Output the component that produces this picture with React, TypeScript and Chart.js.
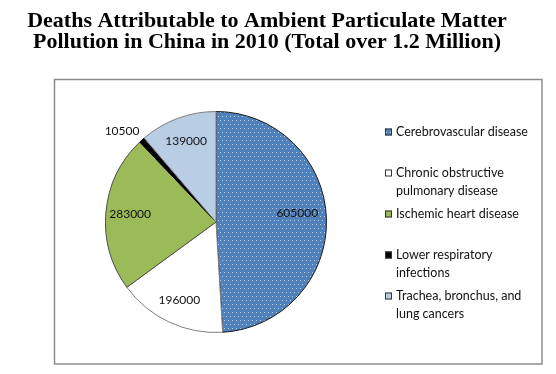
import React, { useEffect, useRef } from "react";
import { Chart, registerables } from "chart.js";

Chart.register(...registerables);

const TITLE_LINES = [
  "Deaths Attributable to Ambient Particulate Matter",
  "Pollution in China in 2010 (Total over 1.2 Million)",
];
const CATEGORIES: string[][] = [
  ["Cerebrovascular disease"],
  ["Chronic obstructive", "pulmonary disease"],
  ["Ischemic heart disease"],
  ["Lower respiratory", "infections"],
  ["Trachea, bronchus, and", "lung cancers"],
];
const DEATHS = [605000, 196000, 283000, 10500, 139000];
const VALUE_LABELS = ["605000", "196000", "283000", "10500", "139000"];
const COLORS = ["#4F81BD", "#FFFFFF", "#9BBB59", "#000000", "#B9CDE5"];
const BORDERS = ["#1a1a1a", "#7f7f7f", "#4d4d4d", "#000000", "#7f7f7f"];

const LABEL_FONT = "12px Lato";
const LEGEND_FONT = "12.5px Lato";

function makeDotPattern(base: string): CanvasPattern | string {
  const c = document.createElement("canvas");
  c.width = 4;
  c.height = 8;
  const ctx = c.getContext("2d");
  if (!ctx) return base;
  ctx.fillStyle = base;
  ctx.fillRect(0, 0, 4, 8);
  ctx.fillStyle = "rgba(255,255,255,0.6)";
  ctx.fillRect(0, 0, 1, 1);
  ctx.fillRect(2, 4, 1, 1);
  const p = ctx.createPattern(c, "repeat");
  return p || base;
}

const decorPlugin = {
  id: "decor",
  afterDraw(chart: any) {
    const ctx: CanvasRenderingContext2D = chart.ctx;
    ctx.save();
    // title
    ctx.fillStyle = "#000";
    ctx.font = "bold 22px 'Liberation Serif'";
    ctx.textAlign = "center";
    ctx.textBaseline = "alphabetic";
    ctx.fillText(TITLE_LINES[0], 267, 27);
    ctx.fillText(TITLE_LINES[1], 267, 48);

    // chart box
    ctx.strokeStyle = "#8c8c8c";
    ctx.lineWidth = 1.5;
    ctx.strokeRect(54.5, 79.5, 487.5, 284.5);

    // value labels
    const meta = chart.getDatasetMeta(0);
    const total = DEATHS.reduce((a, b) => a + b, 0);
    ctx.font = LABEL_FONT;
    ctx.fillStyle = "#111";
    ctx.textBaseline = "middle";
    meta.data.forEach((arc: any, i: number) => {
      const { x, y, startAngle, endAngle, outerRadius } = arc.getProps(
        ["x", "y", "startAngle", "endAngle", "outerRadius"],
        true
      );
      const mid = (startAngle + endAngle) / 2;
      const small = DEATHS[i] / total < 0.02;
      const r = outerRadius * (small ? 1.18 : i === 0 ? 0.74 : 0.78);
      const a = small ? mid - 0.07 : i === 0 ? mid - 0.08 : mid;
      ctx.textAlign = "center";
      ctx.fillText(VALUE_LABELS[i], x + Math.cos(a) * r, y + Math.sin(a) * r);
    });

    // legend
    const lx = 385;
    const ty0 = 132;
    const slot = 41;
    const lineH = 17.5;
    ctx.textAlign = "left";
    CATEGORIES.forEach((lines, i) => {
      const cy = ty0 + slot * i;
      const fill = chart.data.datasets[0].backgroundColor[i];
      ctx.fillStyle = fill;
      ctx.fillRect(lx, cy - 3.5, 7, 7);
      ctx.strokeStyle = "#333";
      ctx.lineWidth = 1;
      ctx.strokeRect(lx + 0.5, cy - 3.5 + 0.5, 6, 6);
      ctx.fillStyle = "#111";
      ctx.font = LEGEND_FONT;
      lines.forEach((ln, j) => {
        ctx.fillText(ln, 396, cy + j * lineH);
      });
    });
    ctx.restore();
  },
};

export default function App() {
  const ref = useRef<HTMLCanvasElement | null>(null);
  useEffect(() => {
    if (!ref.current) return;
    const bg = COLORS.map((c, i) => (i === 0 ? makeDotPattern(c) : c));
    const chart = new Chart(ref.current, {
      type: "pie",
      data: {
        labels: CATEGORIES,
        datasets: [
          {
            data: DEATHS,
            backgroundColor: bg as any,
            borderColor: BORDERS,
            borderWidth: 1,
          },
        ],
      },
      options: {
        responsive: false,
        animation: false,
        layout: { padding: { left: 105, right: 229, top: 111, bottom: 41 } },
        plugins: {
          legend: { display: false },
          title: { display: false },
          tooltip: { enabled: false },
        },
      },
      plugins: [decorPlugin],
    });
    return () => chart.destroy();
  }, []);
  return (
    <div style={{ position: "absolute", left: 0, top: 0, width: 556, height: 374, background: "#fff" }}>
      <canvas ref={ref} width={556} height={374} style={{ display: "block" }} />
    </div>
  );
}
